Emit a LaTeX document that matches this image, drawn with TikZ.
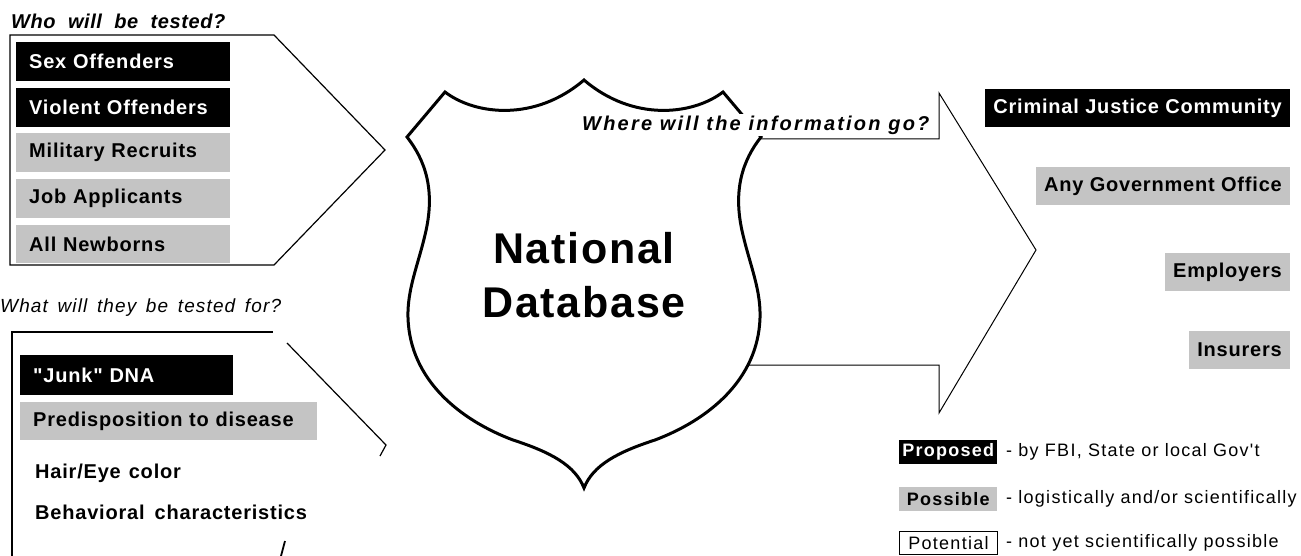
\documentclass[tikz,border=0pt]{standalone}
\usepackage{fontspec}
\setmainfont{Liberation Sans}
\newfontfamily\itf{Liberation Sans}[LetterSpace=4]
\newfontfamily\whof{Liberation Sans}[LetterSpace=3,WordSpace=2]
\newfontfamily\wherf{Liberation Sans}[LetterSpace=11]
\newfontfamily\natf{Liberation Sans}[LetterSpace=4]
\newfontfamily\legf{Liberation Sans}[LetterSpace=7]
\newfontfamily\whatf{Liberation Sans}[LetterSpace=6,WordSpace=1.5]
\definecolor{dither}{gray}{0.77}
\tikzset{
  itemfont/.style={font=\itf\bfseries\fontsize{20}{23}\selectfont},
  blk/.style={itemfont, fill=black, text=white, inner ysep=0pt},
  gry/.style={itemfont, fill=dither, text=black, inner ysep=0pt},
  plainitem/.style={itemfont, text=black, inner sep=0pt, anchor=west},
  leftbox/.style={anchor=west, text width=#1, inner xsep=13pt, align=left},
  rightbox/.style={anchor=east, minimum height=38pt, inner xsep=8pt},
  legbox/.style={font=\legf\bfseries\fontsize{18}{21}\selectfont, anchor=west, minimum width=98pt, minimum height=24pt, inner xsep=3pt, inner ysep=0pt},
  legtext/.style={font=\legf\fontsize{18}{21}\selectfont, anchor=west, inner sep=0pt},
  panel/.style={line width=1.2pt, line join=miter},
  shield/.style={line width=3pt},
  arrowline/.style={line width=1pt},
}
\begin{document}
\begin{tikzpicture}[x=1pt,y=-1pt]
\useasboundingbox (0,0) rectangle (1301,556);

% ---------- panel 1 ----------
\node[font=\whof\bfseries\itshape\fontsize{20}{23}\selectfont, anchor=west, inner sep=0pt] (who) at (11,21) {Who will be tested?};
\coordinate (p1a) at (10,35);
\coordinate (p1b) at (274,35);
\coordinate (p1c) at (385,150);
\coordinate (p1d) at (274,265);
\coordinate (p1e) at (10,265);
\draw[panel] (p1a) -- (p1b) -- (p1c) -- (p1d) -- (p1e) -- cycle;

\node[blk, leftbox=188pt, minimum height=39pt] (sex) at (16,61.5) {Sex Offenders};
\node[blk, leftbox=188pt, minimum height=39pt] (viol) at (16,107.5) {Violent Offenders};
\node[gry, leftbox=188pt, minimum height=39pt] (mil) at (16,152.5) {Military Recruits};
\node[gry, leftbox=188pt, minimum height=39pt] (job) at (16,198.5) {Job Applicants};
\node[gry, leftbox=188pt, minimum height=38pt] (newb) at (16,244) {All Newborns};

% ---------- panel 2 ----------
\node[font=\whatf\itshape\fontsize{19}{22}\selectfont, anchor=west, inner sep=0pt] (what) at (0,308) {What will they be tested for?};
\coordinate (p2a) at (12,556);
\coordinate (p2b) at (12,332);
\coordinate (p2c) at (273,332);
\draw[panel] (p2a) -- (p2b) -- (p2c);
\coordinate (p2d) at (287,343);
\coordinate (p2e) at (386,445);
\coordinate (p2f) at (380,456);
\draw[panel] (p2d) -- (p2e) -- (p2f);
\coordinate (sl1) at (285,541);
\coordinate (sl2) at (281,556);
\draw[line width=1.8pt] (sl1) -- (sl2);

\node[blk, leftbox=187pt, minimum height=40pt] (junk) at (20,375) {"Junk" DNA};
\node[gry, leftbox=271pt, minimum height=38pt] (pred) at (20,421) {Predisposition to disease};
\node[plainitem] (hair) at (35,473) {Hair/Eye\hspace{8pt}color};
\node[plainitem] (behav) at (35,512) {Behavioral\hspace{10pt}characteristics};

% ---------- shield ----------
\draw[shield] (584,488)
  .. controls (575,465) and (550,452) .. (513,440)
  .. controls (460,420) and (410,380) .. (408,318)
  .. controls (407,290) and (418,265) .. (425,235)
  .. controls (436,190) and (425,160) .. (407,137)
  -- (445,92)
  .. controls (475,115) and (535,122) .. (584,80)
  .. controls (633,122) and (693,115) .. (723,92)
  -- (761,137)
  .. controls (743,160) and (732,190) .. (743,235)
  .. controls (750,265) and (761,290) .. (760,318)
  .. controls (758,380) and (708,420) .. (655,440)
  .. controls (618,452) and (593,465) .. (584,488) -- cycle;
\node[font=\natf\bfseries\fontsize{43}{54}\selectfont, align=center, inner sep=0pt] (natdb) at (584,275) {National\\Database};

% ---------- arrow ----------
\node[font=\wherf\bfseries\itshape\fontsize{20}{22}\selectfont, anchor=west, inner sep=0pt, minimum height=22pt, fill=white] (where) at (582,125) {Where will the information go?};
\coordinate (a1) at (761,139);
\coordinate (a2) at (939,139);
\coordinate (a3) at (939,93);
\coordinate (tip) at (1036,250);
\coordinate (a4) at (939,413);
\coordinate (a5) at (939,365);
\coordinate (a6) at (748,365);
\draw[arrowline] (a1) -- (a2) -- (a3) -- (tip) -- (a4) -- (a5) -- (a6);

% ---------- destinations ----------
\node[blk, rightbox] (cjc) at (1290,108) {Criminal Justice Community};
\node[gry, rightbox] (gov) at (1290,186) {Any Government Office};
\node[gry, rightbox] (emp) at (1290,272) {Employers};
\node[gry, rightbox] (ins) at (1290,350) {Insurers};

% ---------- legend ----------
\node[legbox, fill=black, text=white] (prop) at (899,452) {Proposed};
\node[legtext] (propd) at (1006,452) {- by FBI, State or local Gov't};
\node[legbox, fill=dither, text=black] (poss) at (899,499) {Possible};
\node[legtext] (possd) at (1006,499) {- logistically and/or scientifically};
\node[legbox, draw=black, line width=1pt, fill=white, text=black, font=\legf\fontsize{18}{21}\selectfont, minimum height=23pt] (pot) at (899,543) {Potential};
\node[legtext] (potd) at (1006,543) {- not yet scientifically possible};
\end{tikzpicture}
\end{document}
